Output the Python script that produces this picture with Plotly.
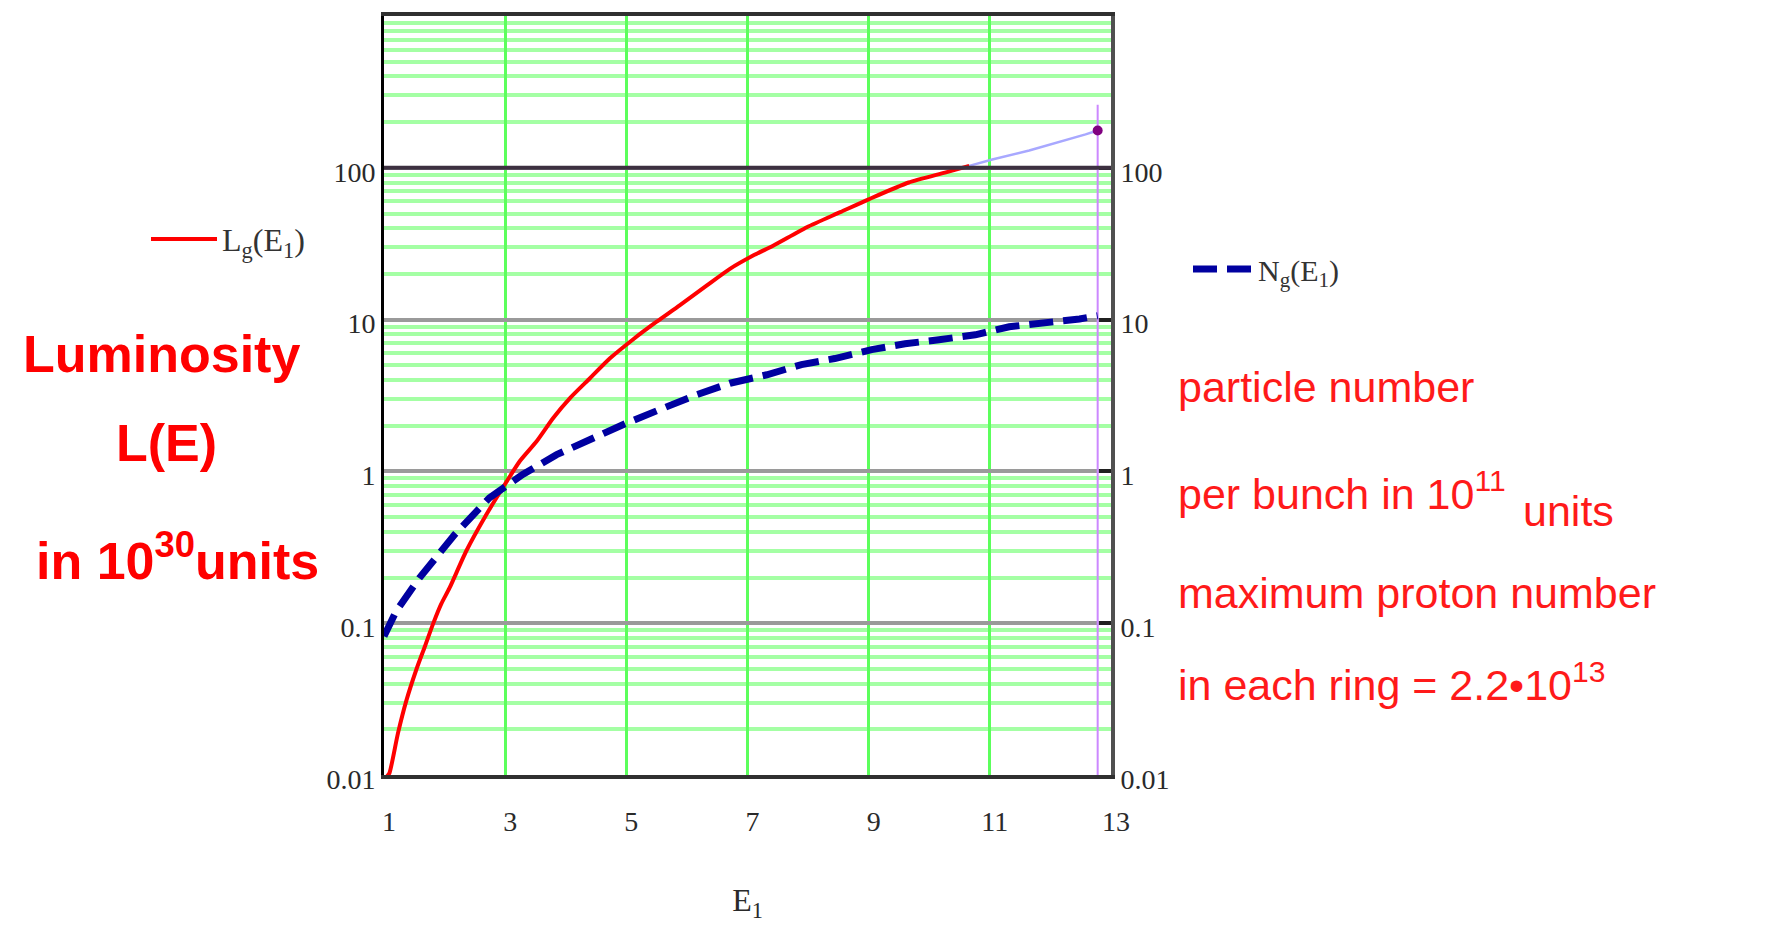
import plotly.graph_objects as go

# Luminosity L(E) in 1e30 units (red curve)
E_lum = [1.05, 1.09, 1.23, 1.37, 1.53, 1.67, 1.81, 1.945, 2.08, 2.36, 2.69, 2.96, 3.24,
         3.52, 3.79, 4.07, 4.40, 4.73, 5.11, 5.50, 5.88, 6.33, 6.71, 7.10, 7.43, 7.98,
         8.53, 9.00, 9.66, 10.26, 10.66]
L_lum = [0.0098, 0.0103, 0.0188, 0.031, 0.049, 0.0695, 0.099, 0.134, 0.17, 0.30, 0.52,
         0.78, 1.167, 1.58, 2.24, 3.04, 4.11, 5.56, 7.4, 9.68, 12.4, 16.8, 21.6, 26.5,
         30.8, 40.6, 51.0, 62.0, 80.0, 93.0, 103.0]

# Continuation of the luminosity curve up to the maximum energy
E_ext = [10.66, 11.04, 11.65, 12.03, 12.58, 12.78]
L_ext = [103.0, 113.5, 130.0, 143.0, 166.0, 176.0]

# Maximum-energy point and its marker line
E_max = [12.78]
L_max = [176.0]
E_vline = [12.78, 12.78]
L_vline = [260.0, 0.01]

# Particle number per bunch N(E) in 1e11 units (blue dashed curve)
E_num = [1.0, 1.20, 1.59, 2.17, 2.74, 3.29, 3.85, 4.45, 5.00, 5.61, 6.16,
         6.71, 7.32, 7.89, 8.44, 9.05, 9.60, 10.16, 10.76, 11.32, 11.87, 12.48, 12.78]
N_num = [0.082, 0.12, 0.20, 0.385, 0.67, 0.955, 1.29, 1.66, 2.08, 2.61, 3.20,
         3.81, 4.33, 5.05, 5.54, 6.34, 6.93, 7.37, 7.94, 8.97, 9.38, 10.1, 10.6]

# Axis ticks
x_ticks = [1, 3, 5, 7, 9, 11, 13]
y_ticks = [0.01, 0.1, 1, 10, 100]
y_ticktext = ["0.01", "0.1", "1", "10", "100"]
y_minor = [m * 10.0 ** k for k in range(-2, 3) for m in range(2, 10)]

# Plot-area edges in pixels
PL, PR, PT, PB = 384, 1111, 13, 775


def px(x):
    return (x - PL) / (PR - PL)


def py(y):
    return (PB - y) / (PB - PT)


SERIF = "Liberation Serif, Times New Roman, serif"
SANS = "Liberation Sans, Arial, sans-serif"

fig = go.Figure()

fig.add_trace(go.Scatter(
    x=E_vline, y=L_vline, mode="lines", line=dict(color="#cc88ff", width=2),
    showlegend=False, hoverinfo="skip"))
fig.add_trace(go.Scatter(
    x=E_ext, y=L_ext, mode="lines", line=dict(color="#a8a8ff", width=2.5),
    showlegend=False))
fig.add_trace(go.Scatter(
    x=E_lum, y=L_lum, mode="lines", name="L<sub>g</sub>(E<sub>1</sub>)",
    line=dict(color="#ff0000", width=4, shape="spline", smoothing=0.6),
    legend="legend"))
fig.add_trace(go.Scatter(
    x=E_num, y=N_num, mode="lines", name="N<sub>g</sub>(E<sub>1</sub>)",
    line=dict(color="#0000a0", width=7, dash="24px,10px"),
    yaxis="y2", legend="legend2"))
fig.add_trace(go.Scatter(
    x=E_max, y=L_max, mode="markers", marker=dict(color="#800080", size=10),
    showlegend=False))

# Heavier reference line at 100
fig.add_shape(type="line", xref="paper", x0=0, x1=1, yref="y", y0=100, y1=100,
              line=dict(color="#3d3040", width=4), layer="above")

fig.update_layout(
    width=1776, height=943, autosize=False,
    margin=dict(l=PL, r=1776 - PR, t=PT, b=943 - PB, pad=0),
    paper_bgcolor="white", plot_bgcolor="white",
    showlegend=True,
    xaxis=dict(
        range=[1, 13], tickmode="array", tickvals=x_ticks,
        ticktext=[str(v) for v in x_ticks],
        showgrid=True, gridcolor="#5cff5c", gridwidth=3,
        showline=True, linecolor="#303030", linewidth=4, mirror=True,
        ticks="", ticklabelstandoff=18, ticklabelshift=5,
        tickfont=dict(family=SERIF, size=28, color="#2a2a2a"),
        zeroline=False,
        title=dict(text="E<sub>1</sub>", standoff=54,
                   font=dict(family=SERIF, size=32, color="#2a2a2a")),
    ),
    yaxis=dict(
        type="log", range=[-2, 3], tickmode="array", tickvals=y_ticks,
        ticktext=y_ticktext,
        showgrid=True, gridcolor="#9a9a9a", gridwidth=4,
        minor=dict(tickmode="array", tickvals=y_minor, showgrid=True,
                   gridcolor="#a4ffa4", gridwidth=4, ticks=""),
        showline=True, linecolor="#000000", linewidth=3,
        ticks="", ticklabelstandoff=0, ticklabelshift=4,
        tickfont=dict(family=SERIF, size=28, color="#2a2a2a"),
        zeroline=False,
    ),
    yaxis2=dict(
        type="log", range=[-2, 3], overlaying="y", side="right",
        tickmode="array", tickvals=y_ticks, ticktext=y_ticktext,
        showgrid=False, showline=True, linecolor="#505050", linewidth=4,
        ticks="inside", ticklen=12, tickwidth=4, tickcolor="#202020",
        ticklabelstandoff=0, ticklabelshift=4,
        tickfont=dict(family=SERIF, size=28, color="#2a2a2a"),
        zeroline=False,
    ),
    legend=dict(x=px(146), y=py(237), xanchor="left", yanchor="middle",
                bgcolor="rgba(0,0,0,0)", itemwidth=66,
                font=dict(family=SERIF, size=32, color="#333333")),
    legend2=dict(x=px(1188), y=py(267), xanchor="left", yanchor="middle",
                 bgcolor="rgba(0,0,0,0)", itemwidth=60,
                 font=dict(family=SERIF, size=30, color="#333333")),
)

left_font = dict(family=SANS, size=52, color="#ff0000")
right_font = dict(family=SANS, size=43, color="#ff1a1a")

notes = [
    dict(text="<b>Luminosity</b>", x=px(161), y=py(352), xanchor="center", font=left_font),
    dict(text="<b>L(E)</b>", x=px(167), y=py(442), xanchor="center", font=left_font),
    dict(text="<b>in 10<sup>30</sup>units</b>", x=px(178), y=py(556), xanchor="center",
         font=left_font),
    dict(text="particle number", x=px(1176), y=py(385), xanchor="left", font=right_font),
    dict(text="per bunch in 10<sup>11</sup>", x=px(1176), y=py(490), xanchor="left",
         font=right_font),
    dict(text="units", x=px(1521), y=py(510), xanchor="left", font=right_font),
    dict(text="maximum proton number", x=px(1176), y=py(592), xanchor="left",
         font=right_font),
    dict(text="in each ring = 2.2\u202210<sup>13</sup>", x=px(1176), y=py(682),
         xanchor="left", font=right_font),
]
for n in notes:
    fig.add_annotation(xref="paper", yref="paper", showarrow=False,
                       yanchor="middle", **n)

fig.write_html("out.html")
